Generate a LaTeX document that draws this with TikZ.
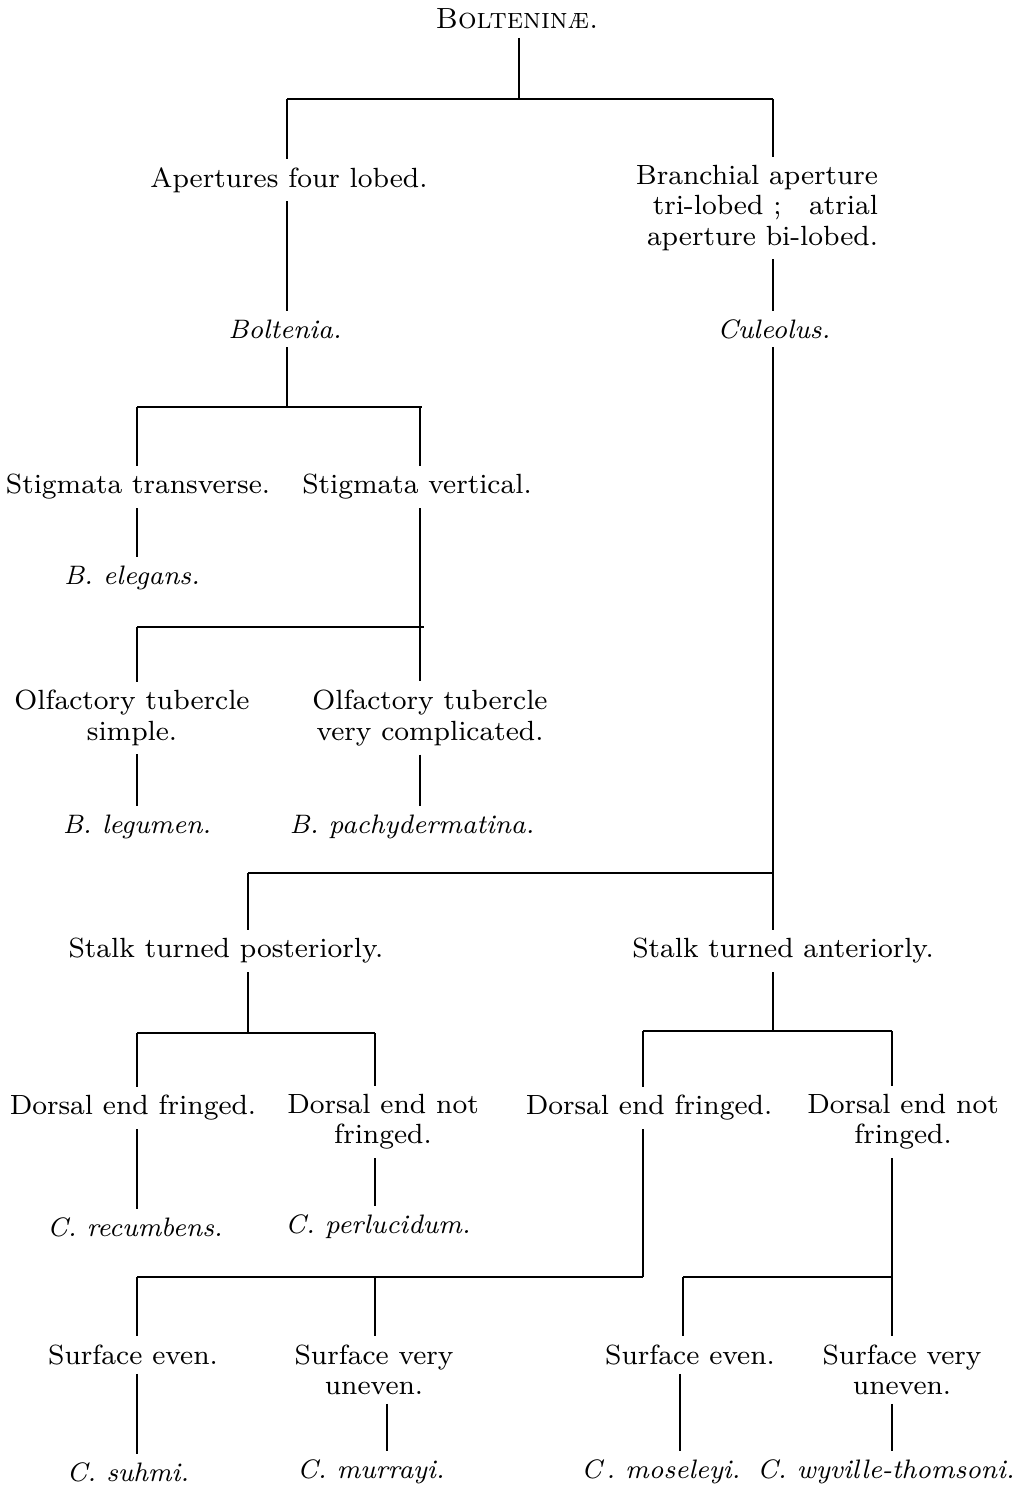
\documentclass[tikz,border=0pt]{standalone}

\begin{document}
\begin{tikzpicture}[lbl/.style={align=center, inner sep=0pt, outer sep=2.5pt, font=\fontsize{7.9}{8.6}\selectfont},
  gen/.style={lbl, font=\fontsize{7.6}{8.6}\selectfont\itshape}, line width=0.6pt]
\useasboundingbox (0,0) rectangle (10.23,-14.90);

\node [lbl, font=\fontsize{8.3}{8.6}\selectfont] (v1) at (5.17,-0.19) {\textsc{Bolteninæ.}};
\node [lbl] (v2) at (2.89,-1.80) {Apertures four lobed.};
\node [lbl, align=right] (v3) at (7.57,-2.08) {Branchial aperture\\tri-lobed ;\quad atrial\\aperture bi-lobed.};
\node [gen] (v4) at (2.85,-3.29) {Boltenia.};
\node [gen] (v5) at (7.74,-3.29) {Culeolus.};

\node [lbl] (v6) at (1.38,-4.87) {Stigmata transverse.};
\node [lbl] (v7) at (4.17,-4.87) {Stigmata vertical.};
\node [gen] (v8) at (1.32,-5.78) {B. elegans.};
\node [lbl] (v9) at (1.32,-7.18) {Olfactory tubercle\\simple.};
\node [lbl] (v10) at (4.30,-7.18) {Olfactory tubercle\\very complicated.};
\node [gen] (v11) at (1.37,-8.27) {B. legumen.};
\node [gen] (v12) at (4.12,-8.27) {B. pachydermatina.};

\node [lbl] (v13) at (2.26,-9.51) {Stalk turned posteriorly.};
\node [lbl] (v14) at (7.83,-9.51) {Stalk turned anteriorly.};
\node [lbl] (v15) at (1.33,-11.08) {Dorsal end fringed.};
\node [lbl] (v16) at (3.83,-11.22) {Dorsal end not\\fringed.};
\node [lbl] (v17) at (6.49,-11.08) {Dorsal end fringed.};
\node [lbl] (v18) at (9.03,-11.22) {Dorsal end not\\fringed.};
\node [gen] (v19) at (1.35,-12.27) {C. recumbens.};
\node [gen] (v20) at (3.78,-12.27) {C. perlucidum.};

\node [lbl] (v21) at (1.33,-13.55) {Surface even.};
\node [lbl] (v22) at (3.74,-13.70) {Surface very\\uneven.};
\node [lbl] (v23) at (6.90,-13.55) {Surface even.};
\node [lbl] (v24) at (9.02,-13.70) {Surface very\\uneven.};
\node [gen] (v25) at (1.28,-14.72) {C. suhmi.};
\node [gen] (v26) at (3.71,-14.72) {C. murrayi.};
\node [gen] (v27) at (6.61,-14.72) {C\,. moseleyi.};
\node [gen] (v28) at (8.86,-14.72) {C. wyville-thomsoni.};

% bar points
\coordinate (v30) at (5.19,-0.99);
\coordinate (v31) at (2.87,-0.99);
\coordinate (v32) at (7.73,-0.99);
\coordinate (v33) at (2.87,-4.07);
\coordinate (v34) at (1.37,-4.07);
\coordinate (v35) at (4.20,-4.07);
\coordinate (v36) at (4.20,-6.27);
\coordinate (v37) at (1.37,-6.27);
\coordinate (v38) at (7.73,-8.73);
\coordinate (v39) at (2.48,-8.73);
\coordinate (v40) at (2.48,-10.33);
\coordinate (v41) at (1.37,-10.33);
\coordinate (v42) at (3.75,-10.33);
\coordinate (v43) at (7.73,-10.31);
\coordinate (v44) at (6.43,-10.31);
\coordinate (v45) at (8.92,-10.31);
\coordinate (v46) at (6.43,-12.77);
\coordinate (v47) at (1.37,-12.77);
\coordinate (v48) at (3.75,-12.77);
\coordinate (v49) at (8.92,-12.77);
\coordinate (v50) at (6.83,-12.77);

\draw (v30 |- v1.south) -- (v30);
\draw (v31) -- (v32);
\draw (v31) -- (v31 |- v2.north);
\draw (v31 |- v2.south) -- (v31 |- v4.north);
\draw (v31 |- v4.south) -- (v33);
\draw (v34) -- ([xshift=0.02cm]v35);
\draw (v34) -- (v34 |- v6.north);
\draw (v34 |- v6.south) -- (v34 |- v8.north);
\draw (v35) -- (v35 |- v7.north);
\draw (v35 |- v7.south) -- (v36);
\draw (v37) -- ([xshift=0.04cm]v36);
\draw (v37) -- (v37 |- v9.north);
\draw (v37 |- v9.south) -- (v37 |- v11.north);
\draw (v36) -- (v36 |- v10.north);
\draw (v36 |- v10.south) -- (v36 |- v12.north);

\draw (v32) -- (v32 |- v3.north);
\draw (v32 |- v3.south) -- (v32 |- v5.north);
\draw (v32 |- v5.south) -- (v38);
\draw (v39) -- (v38);
\draw (v39) -- (v39 |- v13.north);
\draw (v39 |- v13.south) -- (v40);
\draw (v41) -- (v42);
\draw (v38) -- (v38 |- v14.north);
\draw (v38 |- v14.south) -- (v43);
\draw (v44) -- (v45);

\draw (v41) -- (v41 |- v15.north);
\draw (v41 |- v15.south) -- (v41 |- v19.north);
\draw (v42) -- (v42 |- v16.north);
\draw (v42 |- v16.south) -- (v42 |- v20.north);
\draw (v44) -- (v44 |- v17.north);
\draw (v44 |- v17.south) -- (v46);
\draw (v47) -- (v46);
\draw (v45) -- (v45 |- v18.north);
\draw (v45 |- v18.south) -- (v49);
\draw (v50) -- (v49);

\draw (v47) -- (v47 |- v21.north);
\draw (v47 |- v21.south) -- (v47 |- v25.north);
\draw (v48) -- (v48 |- v22.north);
\draw ([xshift=0.12cm]v48 |- v22.south) -- ([xshift=0.12cm]v48 |- v26.north);
\draw (v50) -- (v50 |- v23.north);
\draw ([xshift=-0.03cm]v50 |- v23.south) -- ([xshift=-0.03cm]v50 |- v27.north);
\draw (v49) -- (v49 |- v24.north);
\draw (v49 |- v24.south) -- (v49 |- v28.north);
\end{tikzpicture}
\end{document}
